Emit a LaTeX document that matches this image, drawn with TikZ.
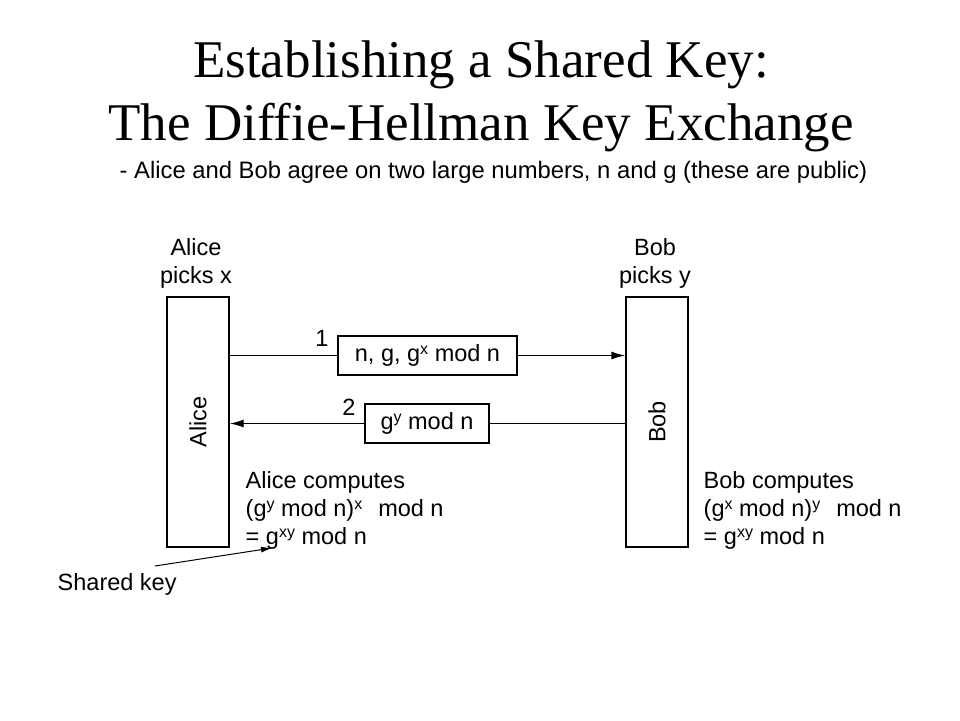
\documentclass[tikz,border=0pt]{standalone}
\usepackage{fontspec}
\setmainfont{Liberation Sans}
\newfontfamily\titlefont{Liberation Serif}
\usetikzlibrary{arrows.meta}
\newcommand{\sps}[1]{\raisebox{7pt}{\fontsize{16}{16}\selectfont #1}}
\begin{document}
\begin{tikzpicture}[x=1pt,y=-1pt,line width=1.4pt,
	party/.style={draw, minimum width=62pt, minimum height=250pt, inner sep=0pt},
	msg/.style={draw, minimum height=39pt, inner sep=0pt},
	txt/.style={font=\fontsize{23.5}{28}\selectfont, inner sep=0pt},
	tip/.style={-{Latex[length=14pt,width=8pt]}}]
	\useasboundingbox (0,0) rectangle (960,720);
	% title
	\node (title1) at (481, 77)	[anchor=base, inner sep=0pt, font=\titlefont\fontsize{53}{56}\selectfont]	{Establishing a Shared Key:};
	\node (title2) at (481,140)	[anchor=base, inner sep=0pt, font=\titlefont\fontsize{53}{56}\selectfont]	{The Diffie-Hellman Key Exchange};
	\node (agree) at (119,178)	[anchor=base west, inner sep=0pt, font=\fontsize{23.8}{25}\selectfont]	{- Alice and Bob agree on two large numbers, n and g (these are public)};
	% parties
	\node (alice) at (198,422)	[party]	{};
	\node (bob)   at (657,422)	[party]	{};
	\node at (alice)	[txt, rotate=90]	{Alice};
	\node at (bob)	[txt, rotate=90]	{Bob};
	\node (alicepick) at (196,238)	[txt, anchor=north, align=center]	{Alice\\picks x};
	\node (bobpick)   at (655,238)	[txt, anchor=north, align=center]	{Bob\\picks y};
	% messages
	\node (msg1) at (427.5,355.5)	[msg, minimum width=179pt, txt]	{n, g, g\sps{x} mod n};
	\node (msg2) at (427,423.5)	[msg, minimum width=124pt, txt]	{g\sps{y} mod n};
	\node (num1) at (322,338)	[txt]	{1};
	\node (num2) at (349,407)	[txt]	{2};
	\draw (alice.east |- msg1.west) -- (msg1.west);
	\draw[tip] (msg1.east) -- (bob.west |- msg1.east);
	\draw (bob.west |- msg2.east) -- (msg2.east);
	\draw[tip] (msg2.west) -- (alice.east |- msg2.west);
	% results
	\node (alicekey) at (245,471)	[txt, anchor=north west, align=left]	{Alice computes\\(g\sps{y} mod n)\sps{x}\hspace{16pt}mod n\\= g\sps{xy} mod n};
	\node (bobkey)   at (703,471)	[txt, anchor=north west, align=left]	{Bob computes\\(g\sps{x} mod n)\sps{y}\hspace{16pt}mod n\\= g\sps{xy} mod n};
	\node (sharedkey) at (57,590)	[txt, anchor=base west]	{Shared key};
	\coordinate (keytail) at (155,566);
	\coordinate (keytip) at (272,548);
	\draw[-{Latex[length=11pt,width=6pt]}, line width=1pt] (keytail) -- (keytip);
\end{tikzpicture}
\end{document}
